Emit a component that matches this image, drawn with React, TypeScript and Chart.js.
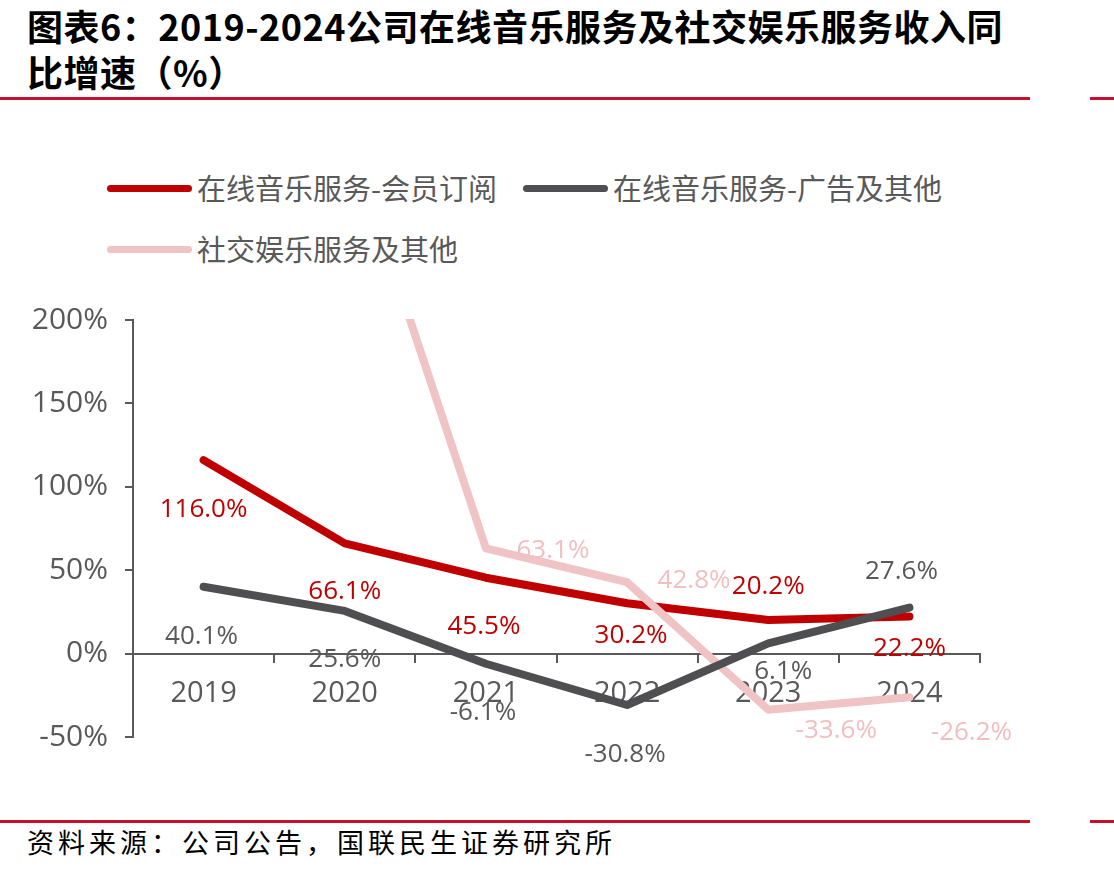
import React, { useEffect, useRef } from 'react';
import { Chart, registerables } from 'chart.js';

Chart.register(...registerables);

// ---- data ----
const years = ['2019', '2020', '2021', '2022', '2023', '2024'];
const subscriptionGrowth = [116.0, 66.1, 45.5, 30.2, 20.2, 22.2];
const adAndOtherGrowth = [40.1, 25.6, -6.1, -30.8, 6.1, 27.6];
const socialEntGrowth = [null, 318.0, 63.1, 42.8, -33.6, -26.2];
const yTickValues = [-50, 0, 50, 100, 150, 200];

const seriesNames = ['在线音乐服务-会员订阅', '在线音乐服务-广告及其他', '社交娱乐服务及其他'];

// ---- styles ----
const lineColors = ['#C00000', '#4F4F51', '#F0C3C4'];
const labelColors = ['#C00000', '#595959', '#F0C0C1'];
const drawOrder = [3, 1, 2];
// label offsets (px) relative to each point
const labelOffsets = [
  [[0, 49], [0, 48], [-2, 49], [4, 32], [0, -33], [0, 32]],
  [[-2, 50], [0, 49], [-3, 49], [-2, 50], [15, 28], [-8, -36]],
  [[0, 0], [0, 0], [67, 2], [67, -2], [68, 21], [62, 35]],
];
const legendPos = [
  { x: 107, y: 188 },
  { x: 523, y: 188 },
  { x: 107, y: 249.5 },
];

const Y_MIN = -50;
const Y_MAX = 200;

const pointLabelPlugin = {
  id: 'pointLabels',
  afterDatasetsDraw(chart: any) {
    const ctx = chart.ctx;
    ctx.save();
    ctx.font = '26px "Open Sans"';
    ctx.textAlign = 'center';
    ctx.textBaseline = 'middle';
    chart.data.datasets.forEach((ds: any, i: number) => {
      const meta = chart.getDatasetMeta(i);
      meta.data.forEach((pt: any, j: number) => {
        const v = ds.data[j];
        if (v === null || v === undefined || v > Y_MAX || v < Y_MIN) return;
        const [dx, dy] = labelOffsets[i][j];
        ctx.fillStyle = labelColors[i];
        ctx.fillText(v.toFixed(1) + '%', pt.x + dx, pt.y + dy);
      });
    });
    ctx.restore();
  },
};

function LineChart() {
  const ref = useRef<HTMLCanvasElement | null>(null);
  useEffect(() => {
    if (!ref.current) return;
    const seriesData = [subscriptionGrowth, adAndOtherGrowth, socialEntGrowth];
    const chart = new Chart(ref.current, {
      type: 'line',
      data: {
        labels: years,
        datasets: seriesData.map((d, i) => ({
          label: seriesNames[i],
          data: d,
          borderColor: lineColors[i],
          backgroundColor: lineColors[i],
          borderWidth: 8,
          pointRadius: 0,
          pointHoverRadius: 0,
          tension: 0,
          borderJoinStyle: 'round',
          borderCapStyle: 'round',
          spanGaps: false,
          order: drawOrder[i],
          clip: 1,
        })),
      },
      options: {
        responsive: false,
        animation: false,
        layout: { padding: { top: 210, bottom: 73, left: 0, right: 134 } },
        plugins: {
          legend: { display: false },
          tooltip: { enabled: false },
          title: { display: false },
        },
        scales: {
          x: {
            type: 'category',
            position: { y: 0 },
            offset: true,
            grid: {
              display: true,
              drawOnChartArea: false,
              drawTicks: true,
              offset: true,
              tickLength: 8,
              color: '#595959',
              lineWidth: 2,
            },
            border: { display: true, color: '#595959', width: 2 },
            ticks: {
              color: '#595959',
              font: { family: 'Open Sans', size: 29 },
              padding: 15,
              maxRotation: 0,
              autoSkip: false,
            },
          },
          y: {
            type: 'linear',
            position: 'left',
            min: Y_MIN,
            max: Y_MAX,
            afterFit: (s: any) => {
              s.width = 133;
            },
            afterBuildTicks: (s: any) => {
              s.ticks = yTickValues.map((v) => ({ value: v }));
            },
            grid: {
              display: true,
              drawOnChartArea: false,
              drawTicks: true,
              tickLength: 8,
              color: '#595959',
              lineWidth: 2,
            },
            border: { display: true, color: '#595959', width: 2 },
            ticks: {
              color: '#595959',
              font: { family: 'Open Sans', size: 30 },
              padding: 17,
              callback: (v: any) => v + '%',
            },
          },
        },
      },
      plugins: [pointLabelPlugin],
    } as any);
    return () => chart.destroy();
  }, []);
  return <canvas ref={ref} width={1114} height={700} style={{ display: 'block', width: 1114, height: 700 }} />;
}

export default function App() {
  const cjk = '"Noto Sans CJK SC", "Noto Sans", sans-serif';
  const ruleColor = '#C8102E';
  return (
    <div
      style={{
        position: 'absolute',
        left: 0,
        top: 0,
        width: 1114,
        height: 873,
        background: '#ffffff',
        overflow: 'hidden',
      }}
    >
      <div
        style={{
          position: 'absolute',
          left: 27,
          top: 2,
          fontFamily: cjk,
          fontWeight: 700,
          fontSize: 36,
          lineHeight: '46px',
          letterSpacing: 0.5,
          color: '#000',
          whiteSpace: 'nowrap',
        }}
      >
        图表6：2019-2024公司在线音乐服务及社交娱乐服务收入同
        <br />
        比增速（%）
      </div>
      <div style={{ position: 'absolute', left: 0, top: 97, width: 1030, height: 2.5, background: ruleColor }} />
      <div style={{ position: 'absolute', left: 1090, top: 97, width: 24, height: 2.5, background: ruleColor }} />

      {seriesNames.map((name, i) => (
        <React.Fragment key={name}>
          <div
            style={{
              position: 'absolute',
              left: legendPos[i].x,
              top: legendPos[i].y - 3.5,
              width: 85,
              height: 7,
              borderRadius: 3.5,
              background: lineColors[i],
            }}
          />
          <div
            style={{
              position: 'absolute',
              left: legendPos[i].x + 90,
              top: legendPos[i].y - 22.5,
              fontFamily: cjk,
              fontSize: 29,
              lineHeight: '42px',
              color: '#595959',
              whiteSpace: 'nowrap',
            }}
          >
            {name}
          </div>
        </React.Fragment>
      ))}

      <div style={{ position: 'absolute', left: 0, top: 110, width: 1114, height: 700 }}>
        <LineChart />
      </div>

      <div style={{ position: 'absolute', left: 0, top: 820, width: 1030, height: 2.5, background: ruleColor }} />
      <div style={{ position: 'absolute', left: 1090, top: 820, width: 24, height: 2.5, background: ruleColor }} />
      <div
        style={{
          position: 'absolute',
          left: 27,
          top: 822,
          fontFamily: cjk,
          fontSize: 27,
          lineHeight: '40px',
          letterSpacing: 4,
          color: '#000',
          whiteSpace: 'nowrap',
        }}
      >
        资料来源：公司公告，国联民生证券研究所
      </div>
    </div>
  );
}
